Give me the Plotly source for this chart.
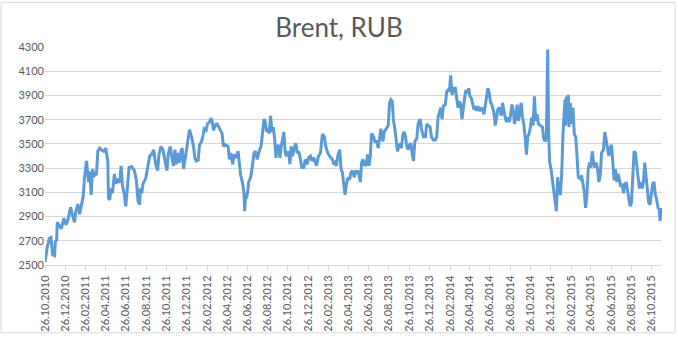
import pandas as pd
import plotly.graph_objects as go

start_date = "2010-10-26"
# days since 26.10.2010
days = [0, 7, 13, 18, 23, 29, 31, 35, 37, 43, 49, 57, 63, 69, 77, 83, 89, 92, 99, 104,
        109, 115, 119, 125, 131, 135, 139, 143, 149, 155, 159, 165, 171, 177, 183, 189, 191, 195, 199, 203,
        209, 213, 219, 225, 229, 233, 239, 243, 247, 253, 261, 269, 275, 280, 285, 287, 291, 295, 303, 309,
        315, 321, 327, 333, 339, 343, 349, 355, 361, 367, 371, 377, 383, 387, 391, 395, 399, 405, 409, 413,
        417, 421, 425, 429, 435, 441, 447, 451, 455, 461, 465, 471, 475, 479, 485, 489, 495, 499, 503, 507,
        511, 517, 523, 529, 533, 537, 543, 551, 555, 559, 565, 569, 575, 581, 585, 589, 595, 599, 601, 603,
        607, 611, 613, 619, 623, 629, 633, 639, 643, 647, 651, 655, 659, 663, 667, 671, 675, 679, 683, 687,
        691, 695, 699, 703, 707, 711, 715, 719, 723, 727, 733, 737, 741, 745, 749, 755, 759, 763, 767, 773,
        779, 783, 789, 793, 799, 803, 809, 813, 817, 823, 829, 835, 841, 845, 851, 857, 861, 865, 869, 873,
        877, 881, 887, 891, 895, 899, 903, 907, 911, 917, 921, 925, 931, 935, 939, 943, 949, 953, 957, 963,
        967, 971, 975, 979, 983, 989, 993, 999, 1003, 1007, 1011, 1017, 1021, 1027, 1033, 1037, 1041, 1045, 1049, 1053,
        1057, 1061, 1065, 1069, 1073, 1077, 1081, 1085, 1089, 1093, 1097, 1101, 1105, 1109, 1113, 1119, 1123, 1129, 1133, 1139,
        1145, 1149, 1153, 1159, 1163, 1169, 1175, 1179, 1183, 1187, 1191, 1195, 1199, 1205, 1209, 1213, 1217, 1221, 1225, 1231,
        1235, 1239, 1243, 1247, 1251, 1255, 1259, 1263, 1267, 1271, 1275, 1279, 1283, 1287, 1291, 1295, 1299, 1303, 1307, 1311,
        1315, 1321, 1325, 1329, 1333, 1337, 1341, 1345, 1351, 1355, 1359, 1363, 1369, 1373, 1377, 1381, 1385, 1389, 1393, 1397,
        1401, 1405, 1409, 1413, 1417, 1421, 1425, 1429, 1433, 1437, 1441, 1445, 1449, 1453, 1457, 1461, 1465, 1469, 1473, 1477,
        1481, 1485, 1491, 1497, 1501, 1505, 1509, 1511, 1513, 1516, 1519, 1523, 1527, 1531, 1535, 1539, 1543, 1547, 1551, 1555,
        1559, 1561, 1565, 1567, 1569, 1573, 1575, 1577, 1581, 1585, 1589, 1593, 1597, 1601, 1605, 1611, 1615, 1619, 1623, 1627,
        1631, 1635, 1639, 1643, 1647, 1651, 1655, 1659, 1663, 1667, 1671, 1675, 1681, 1685, 1689, 1693, 1697, 1701, 1705, 1709,
        1713, 1717, 1721, 1725, 1729, 1733, 1737, 1741, 1745, 1749, 1753, 1757, 1761, 1765, 1769, 1773, 1777, 1781, 1785, 1789,
        1793, 1797, 1801, 1805, 1809, 1813, 1817, 1821, 1825, 1829, 1833, 1837, 1841, 1845, 1849, 1851, 1855]

brent_rub = [2524, 2652, 2719, 2727, 2585, 2577, 2692, 2705, 2852, 2825, 2799, 2887, 2831, 2871, 2977, 2905, 2852, 2932, 3004, 2919,
             2985, 3065, 3225, 3359, 3185, 3271, 3079, 3292, 3239, 3252, 3439, 3465, 3447, 3439, 3465, 3359, 3052, 3039, 3132, 3092,
             3252, 3172, 3199, 3180, 3319, 3159, 3079, 2985, 3105, 3305, 3313, 3279, 3199, 3025, 2999, 3132, 3092, 3172, 3212, 3319,
             3399, 3412, 3452, 3332, 3279, 3412, 3479, 3452, 3359, 3279, 3412, 3479, 3372, 3319, 3452, 3332, 3425, 3345, 3439, 3465,
             3292, 3372, 3452, 3492, 3617, 3559, 3479, 3385, 3359, 3367, 3492, 3519, 3559, 3625, 3612, 3665, 3679, 3713, 3692, 3612,
             3644, 3671, 3639, 3612, 3585, 3479, 3492, 3479, 3372, 3425, 3332, 3412, 3385, 3439, 3332, 3239, 3172, 3092, 2945, 3040,
             3060, 3120, 3185, 3225, 3292, 3425, 3439, 3372, 3425, 3465, 3492, 3599, 3705, 3679, 3599, 3625, 3585, 3732, 3599, 3639,
             3545, 3385, 3479, 3492, 3385, 3479, 3559, 3599, 3425, 3399, 3439, 3332, 3479, 3399, 3452, 3505, 3425, 3439, 3399, 3305,
             3305, 3372, 3332, 3385, 3399, 3359, 3385, 3345, 3319, 3399, 3425, 3580, 3559, 3479, 3425, 3399, 3385, 3372, 3332, 3345,
             3319, 3399, 3452, 3292, 3265, 3185, 3079, 3159, 3212, 3212, 3265, 3279, 3225, 3279, 3265, 3279, 3185, 3345, 3372, 3319,
             3332, 3412, 3319, 3399, 3585, 3559, 3519, 3519, 3465, 3545, 3625, 3519, 3599, 3625, 3652, 3839, 3865, 3852, 3692, 3625,
             3505, 3439, 3479, 3505, 3465, 3572, 3599, 3559, 3479, 3452, 3492, 3505, 3425, 3359, 3519, 3545, 3665, 3705, 3625, 3559,
             3559, 3665, 3652, 3639, 3559, 3532, 3532, 3559, 3719, 3759, 3799, 3705, 3812, 3825, 3932, 3945, 3932, 4065, 3905, 3959,
             3959, 3879, 3799, 3852, 3825, 3705, 3812, 3879, 3945, 3919, 3959, 3892, 3879, 3825, 3785, 3812, 3772, 3812, 3772, 3785,
             3799, 3745, 3825, 3919, 3959, 3919, 3839, 3825, 3759, 3652, 3705, 3785, 3799, 3732, 3839, 3772, 3719, 3679, 3719, 3679,
             3732, 3825, 3785, 3665, 3719, 3825, 3692, 3759, 3839, 3719, 3665, 3559, 3412, 3559, 3585, 3639, 3719, 3652, 3892, 3692,
             3745, 3665, 3652, 3639, 3545, 3519, 3559, 4279, 4279, 3559, 3345, 3292, 3212, 3132, 3052, 2945, 3225, 3105, 3079, 3239,
             3585, 3705, 3865, 3652, 3892, 3719, 3905, 3639, 3839, 3665, 3799, 3585, 3559, 3412, 3225, 3212, 3239, 3172, 3105, 2972,
             3079, 3292, 3345, 3305, 3439, 3345, 3305, 3345, 3292, 3185, 3239, 3425, 3452, 3599, 3532, 3439, 3399, 3465, 3492, 3345,
             3199, 3292, 3185, 3252, 3185, 3145, 3172, 3092, 3159, 3185, 3119, 3052, 2985, 3012, 3185, 3439, 3425, 3292, 3225, 3132,
             3185, 3132, 3185, 3345, 3239, 3092, 3012, 2999, 3079, 3172, 3185, 3079, 3039, 2972, 2959, 2865, 2972]

tick_dates = ["2010-10-26", "2010-12-26", "2011-02-26", "2011-04-26", "2011-06-26", "2011-08-26",
              "2011-10-26", "2011-12-26", "2012-02-26", "2012-04-26", "2012-06-26", "2012-08-26",
              "2012-10-26", "2012-12-26", "2013-02-26", "2013-04-26", "2013-06-26", "2013-08-26",
              "2013-10-26", "2013-12-26", "2014-02-26", "2014-04-26", "2014-06-26", "2014-08-26",
              "2014-10-26", "2014-12-26", "2015-02-26", "2015-04-26", "2015-06-26", "2015-08-26",
              "2015-10-26"]
tick_labels = [pd.Timestamp(d).strftime("%d.%m.%Y") for d in tick_dates]

y_ticks = [2500, 2700, 2900, 3100, 3300, 3500, 3700, 3900, 4100, 4300]

dates = pd.Timestamp(start_date) + pd.to_timedelta(days, unit="D")
x_end = pd.Timestamp(start_date) + pd.Timedelta(days=1857)

fig = go.Figure()
fig.add_trace(go.Scatter(x=dates, y=brent_rub, mode="lines",
                         line=dict(color="#5B9BD5", width=3), hoverinfo="skip"))

fig.update_layout(
    width=678, height=344,
    margin=dict(l=45, r=16, t=47, b=72),
    paper_bgcolor="white", plot_bgcolor="white",
    showlegend=False,
    font=dict(family="Lato, sans-serif", color="#595959", size=11),
    title=dict(text="Brent, RUB", x=0.5, xanchor="center", y=1 - 28 / 344, yanchor="middle",
               font=dict(family="Lato, sans-serif", size=26, color="#595959")),
    xaxis=dict(type="date", range=[pd.Timestamp(start_date), x_end],
               tickvals=pd.to_datetime(tick_dates), ticktext=tick_labels, tickangle=-90,
               showgrid=False, showline=True, linecolor="#D9D9D9", linewidth=1,
               ticks="outside", ticklen=5, tickcolor="#D9D9D9",
               tickfont=dict(size=11, color="#595959"), zeroline=False),
    yaxis=dict(range=[2500, 4300], tickvals=y_ticks, showgrid=True, gridcolor="#D9D9D9",
               gridwidth=1, zeroline=False, showline=False, ticks="",
               tickfont=dict(size=11, color="#595959")),
    shapes=[dict(type="rect", xref="paper", yref="paper",
                 x0=(1 - 45) / 617, x1=(675 - 45) / 617,
                 y0=(272 - 342) / 225, y1=(272 - 1) / 225,
                 line=dict(color="#D9D9D9", width=1), fillcolor="rgba(0,0,0,0)", layer="below")],
)

fig.write_html("out.html")
